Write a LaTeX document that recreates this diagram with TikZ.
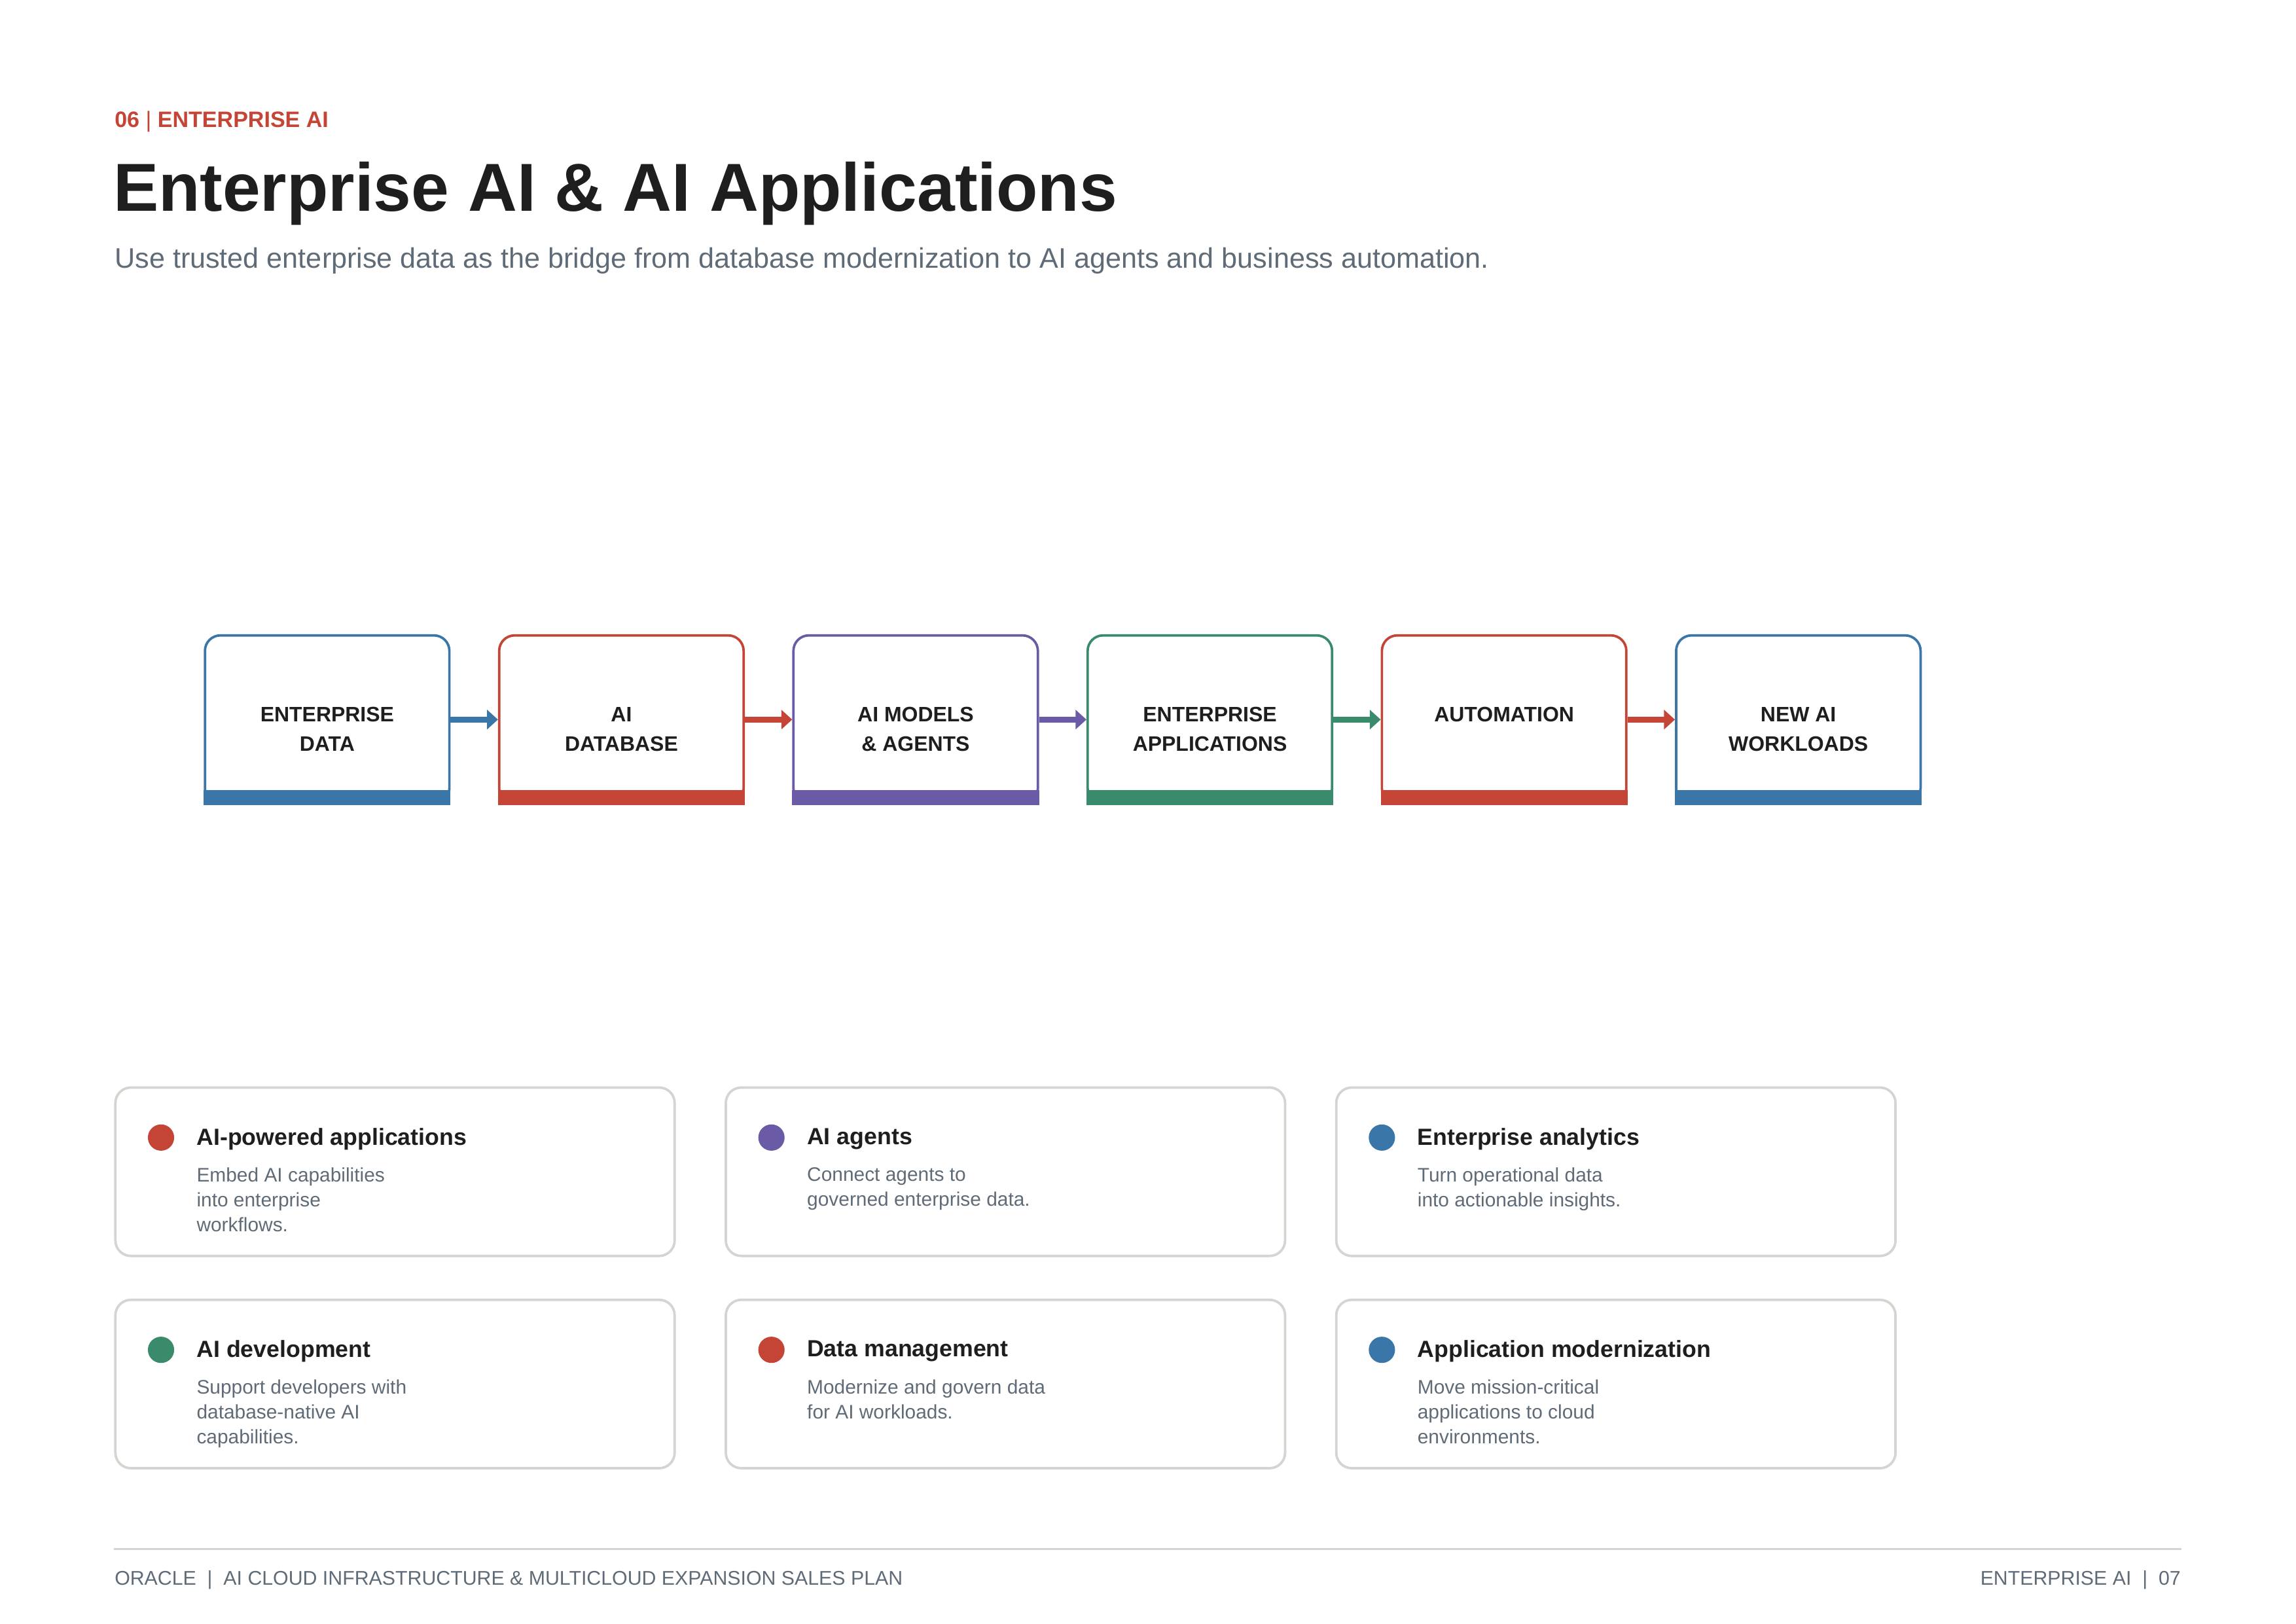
\documentclass[tikz,border=0pt]{standalone}
\usepackage{fontspec}
\setmainfont{Liberation Sans}
\usetikzlibrary{positioning,arrows.meta}
\definecolor{cblue}{HTML}{3A76A8}
\definecolor{cred}{HTML}{C44536}
\definecolor{cpurple}{HTML}{6B5AA6}
\definecolor{cgreen}{HTML}{3A8A6C}
\definecolor{cgray}{HTML}{5F6B77}
\definecolor{cedge}{HTML}{D6D3D0}
\definecolor{cink}{HTML}{1E1E1E}
\begin{document}
\begin{tikzpicture}[x=0.018936cm,y=-0.018936cm]
  \tikzstyle{stage}=[rectangle, draw, line width=0.9pt, rounded corners=0.2cm,
    minimum width=3.162cm, minimum height=2.178cm, fill=white]
  \tikzstyle{stagelabel}=[align=center, font=\bfseries\fontsize{7.7}{10.8}\selectfont, text=cink]
  \tikzstyle{card}=[rectangle, draw=cedge, line width=0.9pt, rounded corners=0.2cm,
    minimum width=7.234cm, minimum height=2.178cm]
  \tikzstyle{cardtitle}=[anchor=west, inner sep=0, font=\bfseries\fontsize{8.6}{10}\selectfont, text=cink]
  \tikzstyle{cardtext}=[anchor=north west, inner sep=0, align=left,
    font=\fontsize{7.2}{9.2}\selectfont, text=cgray]
  \tikzstyle{link}=[line width=2.2pt, -{Triangle[length=4pt,width=7pt]}]
  \useasboundingbox (0,0) rectangle (29.7cm,-21cm);
  % header
  \node[anchor=west, inner sep=0, text=cred, font=\bfseries\fontsize{8.2}{10}\selectfont] (kicker) at (78,83)
    {06 {\mdseries|} ENTERPRISE AI};
  \node[anchor=west, inner sep=0, text=cink, font=\bfseries\fontsize{25}{30}\selectfont] (title) at (77,132)
    {Enterprise AI \& AI Applications};
  \node[anchor=west, inner sep=0, text=cgray, font=\fontsize{10.4}{12}\selectfont] (subtitle) at (78,178)
    {Use trusted enterprise data as the bridge from database modernization to AI agents and business automation.};
  % flow
  \foreach \n/\c/\t [count=\i from 0] in {data/cblue/{ENTERPRISE\\DATA},
      aidb/cred/{AI\\DATABASE}, models/cpurple/{AI MODELS\\\& AGENTS},
      apps/cgreen/{ENTERPRISE\\APPLICATIONS}, auto/cred/{AUTOMATION\\\mbox{}},
      work/cblue/{NEW AI\\WORKLOADS}} {
    \node[stage, draw=\c] (\n) at (223.5+201*\i,491.5) {};
    \fill[\c] ([yshift=0.19cm]\n.south west) rectangle (\n.south east);
    \node[stagelabel] (\n-t) at (223.5+201*\i,498) {\t};
  }
  \draw[link, cblue] (data) -- (aidb);
  \draw[link, cred] (aidb) -- (models);
  \draw[link, cpurple] (models) -- (apps);
  \draw[link, cgreen] (apps) -- (auto);
  \draw[link, cred] (auto) -- (work);
  % cards
  \foreach \n/\x/\y/\c/\h/\b in {
      c1/78/742/cred/{AI-powered applications}/{Embed AI capabilities\\into enterprise\\workflows.},
      c2/495/742/cpurple/{AI agents}/{Connect agents to\\governed enterprise data.},
      c3/912/742/cblue/{Enterprise analytics}/{Turn operational data\\into actionable insights.},
      c4/78/887/cgreen/{AI development}/{Support developers with\\database-native AI\\capabilities.},
      c5/495/887/cred/{Data management}/{Modernize and govern data\\for AI workloads.},
      c6/912/887/cblue/{Application modernization}/{Move mission-critical\\applications to cloud\\environments.}} {
    \node[card, anchor=north west] (\n) at (\x,\y) {};
    \fill[\c] (\x+32,\y+35) circle (0.17cm);
    \node[cardtitle] (\n-h) at (\x+56,\y+36) {\h};
    \node[cardtext] (\n-b) at (\x+56,\y+55) {\b};
  }
  % footer
  \draw[cedge, line width=0.6pt] (78,1058) -- (1490,1058);
  \node[anchor=west, inner sep=0, text=cgray, font=\fontsize{7.3}{9}\selectfont] (foot) at (78,1079)
    {ORACLE \ \textbar\ \ AI CLOUD INFRASTRUCTURE \& MULTICLOUD EXPANSION SALES PLAN};
  \node[anchor=east, inner sep=0, text=cgray, font=\fontsize{7.3}{9}\selectfont] (page) at (1490,1079)
    {ENTERPRISE AI \ \textbar\ \ 07};
\end{tikzpicture}
\end{document}
